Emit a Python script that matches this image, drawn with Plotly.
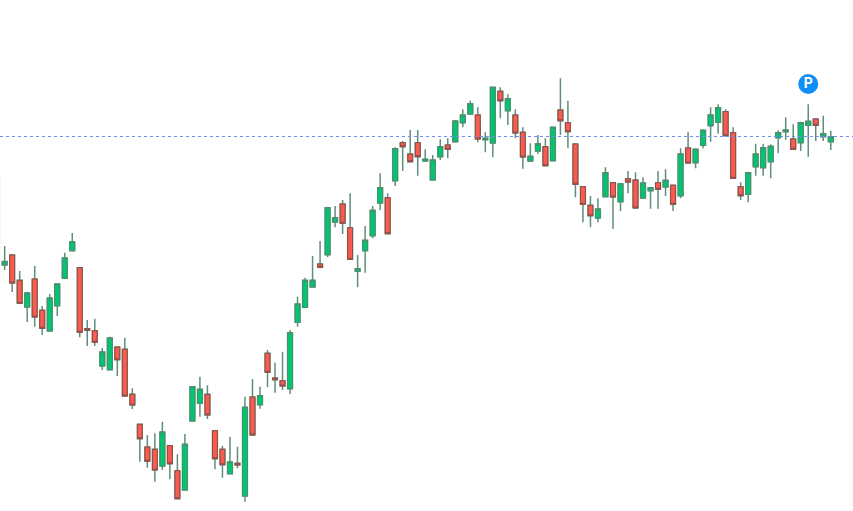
import plotly.graph_objects as go

# one entry per candle (price units are arbitrary, no axis is shown)
opens = [333, 246, 256, 230.7, 204, 232, 200.7, 180, 205.3, 232.7, 260.3, 243.3, 182.3, 180.3, 145, 141.3,
         164, 161.7, 116.7, 86.7, 64, 61.7, 45, 65.3, 40.3, 21, 90, 107.7, 116.7, 80.3, 61.7, 37.3,
         47.7, 15, 114, 106.3, 157.7, 133, 130.3, 122.3, 188.7, 203.7, 224, 247, 256.3, 289, 307, 283.3,
         239.7, 260.3, 275.3, 308, 313.3, 330.3, 368.3, 357, 368.3, 350, 331, 354.3, 366, 369.3, 388.3, 397,
         396, 371.3, 368, 419.7, 400.3, 396, 378.7, 350, 360, 364.3, 350.3, 401, 388.3, 367, 324.3, 305.7,
         293, 314.3, 328.3, 309.3, 332.3, 331, 313, 320.3, 328.3, 324, 325.7, 315.3, 363, 348.3, 365.7, 385.3,
         388.7, 399.3, 378.3, 324.3, 316.7, 344.3, 343.3, 349.3, 373.3, 379.3, 372, 368.3, 385.7, 392, 374.3, 369.3]
closes = [261, 249.5, 228, 207.7, 218, 194, 182.7, 213, 227, 253, 269.3, 178.7, 180.7, 168.7, 159, 173,
          151.3, 115, 106, 72.3, 49.7, 41, 79, 47.3, 12.3, 66.7, 124.3, 121.7, 96, 52.3, 46.3, 49,
          46, 103.7, 76, 115.3, 138.7, 131.3, 125, 178.3, 207, 230.7, 230.7, 243.7, 303.3, 293.3, 287.7, 251.7,
          242.3, 270.7, 300.7, 323.3, 277.3, 362.3, 364.3, 349.3, 354.3, 351.7, 351, 364.3, 361.7, 390, 396, 407.3,
          372, 372.7, 423.7, 410.3, 412.3, 378, 354, 354.7, 367.3, 345.3, 383.7, 390.3, 379.3, 326.7, 306.7, 295.3,
          302, 338.3, 314, 327.3, 329, 303, 328, 323.3, 321.7, 330.7, 306.7, 357, 348, 361.7, 380.7, 396,
          403.3, 375.3, 332.7, 315.3, 338.3, 357, 363.3, 364.7, 378.3, 381, 361.7, 388.3, 389.7, 385.7, 377.3, 374.3]
highs = [333, 265, 256, 240, 219.3, 245, 205, 217, 227, 258.3, 278, 243.3, 191, 192.3, 163, 174.3,
         164.3, 173.3, 122.7, 87, 76, 77.7, 89.3, 66, 56.7, 77, 124.3, 134.3, 125.7, 80.3, 65.3, 74.3,
         64.3, 114.3, 132, 124.3, 161, 148.3, 159.3, 181, 214.3, 233.3, 255, 270, 304.3, 305, 311, 317.7,
         256, 285, 305, 337.7, 317.7, 363.7, 370, 381, 381, 361.7, 356, 371.7, 372.7, 391, 401.7, 410.3,
         403.7, 378.7, 423.7, 423.7, 416.7, 401.7, 383.7, 367.7, 376, 372.7, 383.7, 432.7, 410.3, 367, 325, 315,
         312.7, 343.7, 328.7, 327.7, 340, 338.7, 333.7, 323.3, 340, 341.7, 326, 362.7, 379.3, 362.7, 381.7, 403.7,
         406.7, 401.7, 383.7, 328.7, 339.3, 367.3, 367.3, 366.7, 380.7, 393.7, 386.7, 389.3, 406.7, 392.7, 395.3, 380.3]
lows = [261, 241, 219, 207.7, 189, 184.3, 176, 180, 195, 232.7, 260.3, 173.7, 165, 165, 141, 141,
        135, 115, 102, 49.3, 43.3, 29.3, 41, 31.7, 12.3, 21, 90, 94.3, 92, 41.7, 33.3, 37.3,
        42.7, 9.3, 76, 102.3, 123.7, 118.3, 121, 117, 184.3, 203.7, 224, 242.7, 253.7, 283.7, 277, 251,
        223.7, 238.3, 272.7, 301, 277.3, 325, 340, 349.3, 335.3, 350, 331, 351, 352.7, 369.3, 383.7, 397,
        368.7, 358.7, 353.7, 392.7, 386, 372.7, 342.3, 350, 357, 345.3, 350.3, 376, 362.7, 313.7, 288.7, 283.7,
        288.7, 314.3, 282, 300, 317.7, 303, 313, 302.3, 302.3, 315, 300, 312.7, 348, 342.7, 362.7, 369.3,
        377.3, 375.3, 332.7, 311, 308.7, 335.3, 335.3, 332.7, 357.7, 371.3, 361.7, 360, 354.3, 370, 370, 361]

price_line = 374.5
marker_candle = 108
marker_price = 427
marker_label = "P"

green = "#00c76f"
red = "#fb5b4e"
candles = list(range(len(opens)))
body_top = [max(o, c) for o, c in zip(opens, closes)]
body_bottom = [min(o, c) for o, c in zip(opens, closes)]

fig = go.Figure()

# wicks first, they are a paler grey-green than the body borders
# the first candle is cut by the left edge and has no wick, so it is left out here
fig.add_trace(go.Candlestick(
    x=candles[1:], open=opens[1:], high=highs[1:], low=lows[1:], close=closes[1:],
    increasing=dict(line=dict(color="#5f8f7a", width=1.5), fillcolor=green),
    decreasing=dict(line=dict(color="#5f8f7a", width=1.5), fillcolor=red),
    whiskerwidth=0,
    hoverinfo="skip",
))
# bodies on top, no wick because high/low stop at the body
fig.add_trace(go.Candlestick(
    x=candles, open=opens, high=body_top, low=body_bottom, close=closes,
    increasing=dict(line=dict(color="#4a8f70", width=1), fillcolor=green),
    decreasing=dict(line=dict(color="#8f4c46", width=1), fillcolor=red),
    whiskerwidth=0,
))

fig.add_hline(y=price_line, line=dict(color="#6f8cf5", width=1, dash="dot"))

fig.add_trace(go.Scatter(
    x=[marker_candle], y=[marker_price], mode="markers+text",
    marker=dict(size=20, color="#0f8ff5"),
    text=[marker_label], textposition="middle center",
    textfont=dict(family="Roboto", size=14, color="white", weight="bold"),
    hoverinfo="skip",
))

fig.update_layout(
    width=853, height=511,
    margin=dict(l=0, r=0, t=0, b=0),
    paper_bgcolor="white", plot_bgcolor="white",
    showlegend=False,
    boxgap=0.08,
    xaxis=dict(range=[0.38, 113.96], visible=False, rangeslider=dict(visible=False)),
    yaxis=dict(range=[0, 511], visible=False),
)

fig.write_html("out.html", config=dict(displayModeBar=False),
               post_script="document.body.style.margin='0';")
